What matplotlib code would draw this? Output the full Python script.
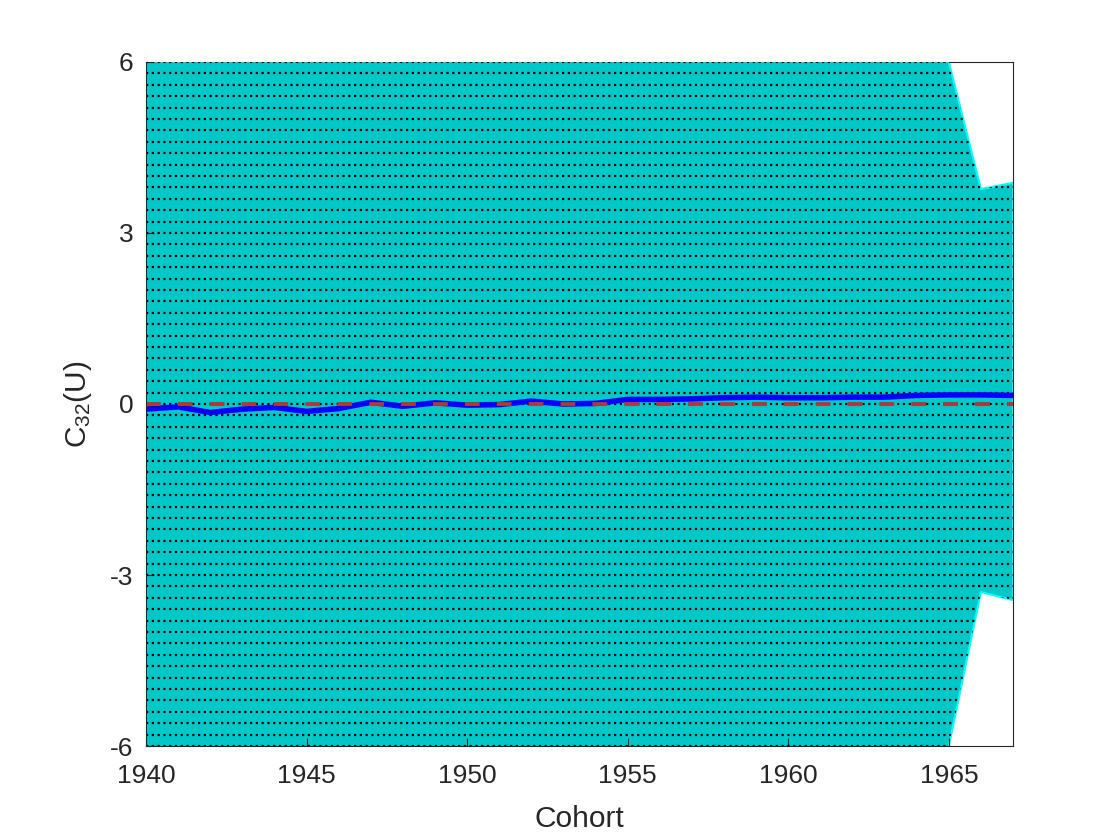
import numpy as np
import matplotlib
matplotlib.use("Agg")
import matplotlib.pyplot as plt

plt.rcParams['font.family'] = ['Liberation Sans', 'DejaVu Sans']
plt.rcParams['axes.unicode_minus'] = False

# cohort years and estimates
cohort = np.arange(1940, 1968)
estimate = [-0.09, -0.05, -0.15, -0.09, -0.06, -0.13, -0.08, 0.03, -0.04, 0.02,
            -0.02, -0.01, 0.05, 0.00, 0.01, 0.08, 0.08, 0.09, 0.11, 0.12,
            0.11, 0.11, 0.12, 0.12, 0.15, 0.16, 0.16, 0.15]
# confidence band (values beyond +-6 fall outside the axes)
upper = [9.0, 9.0, 9.0, 9.0, 9.0, 9.0, 9.0, 9.0, 9.0, 9.0,
         9.0, 9.0, 9.0, 9.0, 9.0, 9.0, 9.0, 9.0, 9.0, 9.0,
         9.0, 9.0, 9.0, 9.0, 9.0, 6.0, 3.77, 3.88]
lower = [-9.0, -9.0, -9.0, -9.0, -9.0, -9.0, -9.0, -9.0, -9.0, -9.0,
         -9.0, -9.0, -9.0, -9.0, -9.0, -9.0, -9.0, -9.0, -9.0, -9.0,
         -9.0, -9.0, -9.0, -9.0, -9.0, -6.0, -3.30, -3.44]
xticks = [1940, 1945, 1950, 1955, 1960, 1965]
yticks = [-6, -3, 0, 3, 6]

fig = plt.figure(figsize=(11.2, 8.4), dpi=100)
ax = fig.add_axes([0.1304, 0.1119, 0.7741, 0.8143])

band = ax.fill_between(cohort, lower, upper, facecolor='#00c8c8',
                       edgecolor='#00ffff', linewidth=1.5, zorder=1)

# dotted hatch inside the band
hatch_y = np.arange(-6, 6.001, 0.2)
hl = ax.hlines(hatch_y, cohort[0], cohort[-1], colors='black',
               linestyles=(0, (1, 1.6)), linewidth=1.6, zorder=2)
hl.set_clip_path(band.get_paths()[0], ax.transData)

ax.plot(cohort, estimate, color='#0000ff', linewidth=4, zorder=3)
ax.axhline(0, color='#b03838', linestyle=(0, (3.8, 4.4)), linewidth=2.8, zorder=4)

ax.set_xlim(1940, 1967)
ax.set_ylim(-6, 6)
ax.set_xticks(xticks)
ax.set_yticks(yticks)
ax.tick_params(direction='in', labelsize=19, colors='#262626', length=6)
ax.tick_params(axis='x', pad=13)
ax.tick_params(axis='y', pad=9)
for s in ax.spines.values():
    s.set_color('#262626')
    s.set_zorder(5)
ax.spines['top'].set_visible(False)
ax.plot([1965, 1967], [6, 6], color='#262626', linewidth=0.8, clip_on=False, zorder=5)

ax.set_xlabel('Cohort', fontsize=21.5, color='#262626', labelpad=12)
ax.set_ylabel(r'C$\mathregular{_{32}}$(U)', fontsize=21.5, color='#262626', labelpad=12)

fig.savefig('out.png')
